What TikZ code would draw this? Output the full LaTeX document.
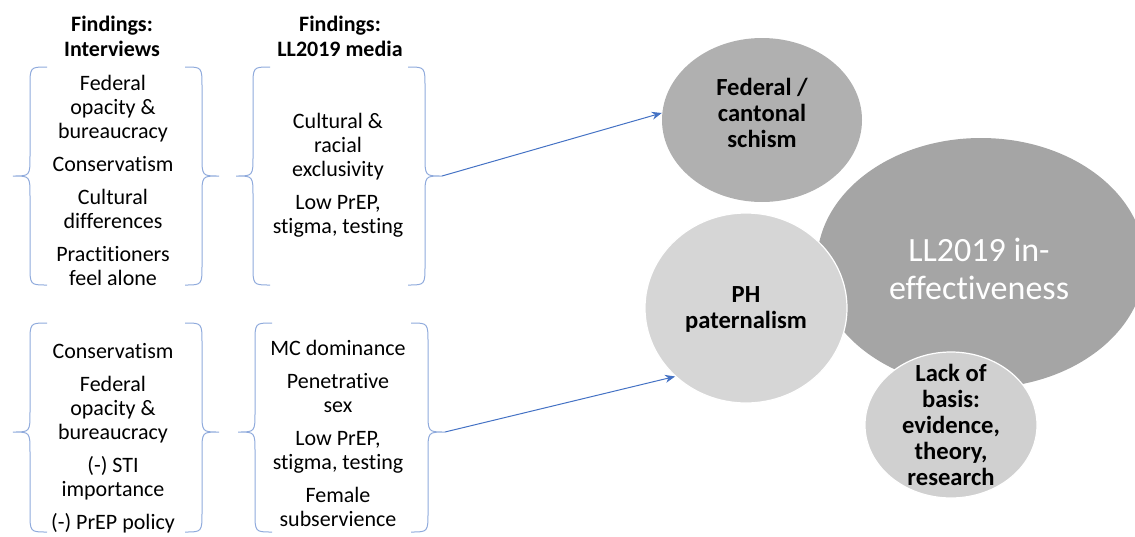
\documentclass[tikz,border=0pt]{standalone}
\usepackage{fontspec}
\setmainfont{Carlito}[Ligatures=NoCommon]
\usetikzlibrary{shapes.geometric,arrows.meta}

\definecolor{braceblue}{HTML}{8FAADC}
\definecolor{arrowblue}{HTML}{4472C4}
\definecolor{fedgray}{HTML}{B0B0B0}
\definecolor{maingray}{HTML}{A5A5A5}
\definecolor{phgray}{HTML}{D6D6D6}
\definecolor{lackgray}{HTML}{D0D0D0}

\begin{document}
\begin{tikzpicture}[x=0.5pt, y=-0.5pt,
            every node/.style={align=center, inner sep=0pt},
            bubble/.style={ellipse, draw=white, line width=0.6pt},
            findings/.style={font=\fontsize{11}{12}\selectfont},
            heading/.style={font=\fontsize{11}{12.5}\selectfont\bfseries},
            bubble_text/.style={font=\fontsize{12.3}{13}\selectfont\bfseries}]
            \tikzset{brace line/.style={draw=braceblue, line width=0.5pt},
                     link edge/.style={draw=arrowblue, line width=0.5pt, -{Stealth[length=5pt, width=4pt]}}}
            \useasboundingbox (0,0) rectangle (1135,536);
            \clip (0,0) rectangle (1135,536);

            % headings
            \node [heading] (headInt) at (112,36) {Findings:\\Interviews};
            \node [heading] (headMedia) at (340,36) {Findings:\\LL2019 media};

            % brace pairs round the findings
            \foreach \xl/\xr/\yt/\yb/\ym in {30/202/67/285/176, 253/425/67/285/176,
                                             30/202/323/532/432, 255/428/323/532/432} {
                \draw [brace line] (\xl+17,\yt) .. controls (\xl,\yt) .. (\xl,\yt+20) -- (\xl,\ym-20)
                    .. controls (\xl,\ym) .. (\xl-17,\ym) .. controls (\xl,\ym) .. (\xl,\ym+20)
                    -- (\xl,\yb-20) .. controls (\xl,\yb) .. (\xl+17,\yb);
                \draw [brace line] (\xr-17,\yt) .. controls (\xr,\yt) .. (\xr,\yt+20) -- (\xr,\ym-20)
                    .. controls (\xr,\ym) .. (\xr+17,\ym) .. controls (\xr,\ym) .. (\xr,\ym+20)
                    -- (\xr,\yb-20) .. controls (\xr,\yb) .. (\xr-17,\yb);
            }
            \coordinate (topTip) at (442,176);
            \coordinate (botTip) at (445,432);

            % findings
            \node [findings] (intTop) at (113,180) {Federal\\opacity \&\\bureaucracy\\[4.5pt]
                Conservatism\\[4.5pt] Cultural\\differences\\[4.5pt] Practitioners\\feel alone};
            \node [findings] (mediaTop) at (338,175) {Cultural \&\\racial\\exclusivity\\[4.5pt]
                Low PrEP,\\stigma, testing};
            \node [findings] (intBot) at (113,438) {Conservatism\\[4.5pt] Federal\\opacity \&\\bureaucracy\\[4.5pt]
                (-) STI\\importance\\[4.5pt] (-) PrEP policy};
            \node [findings] (mediaBot) at (338,433) {MC dominance\\[4.5pt] Penetrative\\sex\\[4.5pt]
                Low PrEP,\\stigma, testing\\[4.5pt] Female\\subservience};

            % bubbles
            \node [bubble, fill=fedgray, draw=none, minimum width=100pt, minimum height=82pt] (fed) at (762,120) {};
            \node [bubble_text] (fedText) at (762,113) {Federal /\\cantonal\\schism};
            \node [bubble, fill=maingray, draw=none, minimum width=164pt, minimum height=125pt] (main) at (981,263) {};
            \node [font=\fontsize{17}{19}\selectfont, text=white] (mainText) at (979,269) {LL2019 in-\\effectiveness};
            \node [bubble, fill=phgray, minimum width=101pt, minimum height=95pt] (ph) at (746,308) {};
            \node [bubble_text] (phText) at (746,309) {PH\\paternalism};
            \node [bubble, fill=lackgray, minimum width=86pt, minimum height=73pt] (lack) at (951,425) {};
            \node [bubble_text] (lackText) at (951,425) {Lack of\\basis:\\evidence,\\theory,\\research};

            \draw [link edge] (topTip) -- (fed.176);
            \draw [link edge] (botTip) -- (ph.224);
        \end{tikzpicture}
\end{document}
